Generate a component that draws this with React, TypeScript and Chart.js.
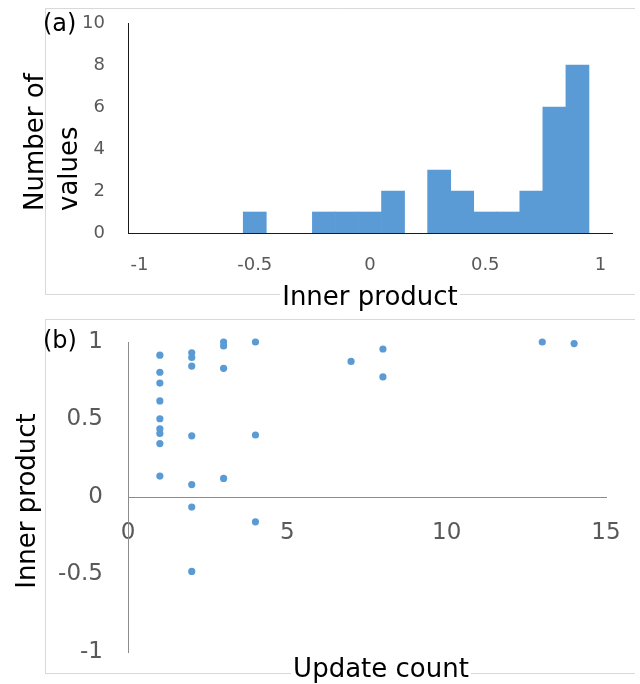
import React, { useEffect, useRef } from "react";
import { Chart, registerables } from "chart.js";

Chart.register(...registerables);

// ---- Data: panel (a) histogram ----
const binCenters = [-0.5, -0.2, -0.1, 0.0, 0.1, 0.3, 0.4, 0.5, 0.6, 0.7, 0.8, 0.9];
const binCounts = [1, 1, 1, 1, 2, 3, 2, 1, 1, 2, 6, 8];
const histXTicks = [-1, -0.5, 0, 0.5, 1];
const histYTicks = [0, 2, 4, 6, 8, 10];

// ---- Data: panel (b) scatter ----
const updateCounts = [1, 1, 1, 1, 1, 1, 1, 1, 1, 2, 2, 2, 2, 2, 2, 2, 3, 3, 3, 3, 4, 4, 4, 7, 8, 8, 13, 14];
const innerProducts = [
  0.915, 0.805, 0.735, 0.62, 0.505, 0.44, 0.41, 0.345, 0.135,
  0.93, 0.9, 0.845, 0.395, 0.08, -0.065, -0.48,
  1.0, 0.975, 0.83, 0.12,
  1.0, 0.4, -0.16,
  0.875,
  0.955, 0.775,
  1.0,
  0.99,
];
const scatXTicks = [0, 5, 10, 15];
const scatYTicks = [-1, -0.5, 0, 0.5, 1];

const labelA = "(a)";
const labelB = "(b)";
const histXTitle = "Inner product";
const histYTitle = ["Number of", "values"];
const scatXTitle = "Update count";
const scatYTitle = "Inner product";

const BLUE = "#5B9BD5";
const FONT = "'DejaVu Sans', sans-serif";
const TICK_COLOR = "#595959";
const FRAME = "#d9d9d9";

function zeroPad(s: any) {
  s.paddingTop = 0;
  s.paddingBottom = 0;
  s.paddingLeft = 0;
  s.paddingRight = 0;
}

function drawFrame(ctx: CanvasRenderingContext2D, top: number, bottom: number) {
  ctx.save();
  ctx.strokeStyle = FRAME;
  ctx.lineWidth = 1;
  ctx.beginPath();
  ctx.moveTo(45.5, top + 0.5);
  ctx.lineTo(635, top + 0.5);
  ctx.moveTo(45.5, top);
  ctx.lineTo(45.5, bottom + 1);
  ctx.moveTo(45.5, bottom + 0.5);
  ctx.lineTo(635, bottom + 0.5);
  ctx.stroke();
  ctx.restore();
}

function drawHTitle(ctx: CanvasRenderingContext2D, text: string, cx: number, baseline: number, size: number) {
  ctx.save();
  ctx.font = `${size}px ${FONT}`;
  const w = ctx.measureText(text).width;
  ctx.fillStyle = "#ffffff";
  ctx.fillRect(cx - w / 2 - 2, baseline - size * 0.78, w + 4, size * 1.02);
  ctx.fillStyle = "#000000";
  ctx.textAlign = "center";
  ctx.textBaseline = "alphabetic";
  ctx.fillText(text, cx, baseline);
  ctx.restore();
}

function drawVTitle(ctx: CanvasRenderingContext2D, text: string, baselineX: number, y: number, size: number, align: CanvasTextAlign) {
  ctx.save();
  ctx.font = `${size}px ${FONT}`;
  ctx.fillStyle = "#000000";
  ctx.translate(baselineX, y);
  ctx.rotate(-Math.PI / 2);
  ctx.textAlign = align;
  ctx.textBaseline = "alphabetic";
  ctx.fillText(text, 0, 0);
  ctx.restore();
}

function drawPanelLabel(ctx: CanvasRenderingContext2D, text: string, x: number, cy: number) {
  ctx.save();
  ctx.font = `24px ${FONT}`;
  ctx.fillStyle = "#000000";
  ctx.textAlign = "left";
  ctx.textBaseline = "middle";
  ctx.fillText(text, x, cy);
  ctx.restore();
}

export default function App() {
  const refA = useRef<HTMLCanvasElement>(null);
  const refB = useRef<HTMLCanvasElement>(null);

  useEffect(() => {
    const decorA = {
      id: "decorA",
      beforeDraw(chart: any) {
        drawFrame(chart.ctx, 8, 294);
      },
      afterDraw(chart: any) {
        const ctx = chart.ctx;
        drawPanelLabel(ctx, labelA, 43, 25);
        drawHTitle(ctx, histXTitle, 370, 305, 26);
        drawVTitle(ctx, histYTitle[0], 43, 211, 26, "left");
        drawVTitle(ctx, histYTitle[1], 77, 211, 26, "left");
      },
    };

    const decorB = {
      id: "decorB",
      beforeDraw(chart: any) {
        drawFrame(chart.ctx, 0, 354);
      },
      afterDraw(chart: any) {
        const ctx = chart.ctx;
        drawPanelLabel(ctx, labelB, 43, 23);
        drawHTitle(ctx, scatXTitle, 381, 358, 26);
        drawVTitle(ctx, scatYTitle, 35, 182, 26, "center");
      },
    };

    const chartA = new Chart(refA.current as HTMLCanvasElement, {
      type: "bar",
      data: {
        datasets: [
          {
            data: binCenters.map((c, i) => ({ x: c, y: binCounts[i] })) as any,
            backgroundColor: BLUE,
            borderWidth: 0,
            barPercentage: 1,
            categoryPercentage: 1,
          },
        ],
      },
      options: {
        animation: false,
        responsive: false,
        events: [],
        layout: { padding: { left: 0, right: 28, top: 23, bottom: 0 }, autoPadding: false },
        plugins: { legend: { display: false }, tooltip: { enabled: false } },
        scales: {
          x: {
            type: "linear",
            min: -1.05,
            max: 1.05,
            offset: false,
            grid: { display: false, drawTicks: false },
            border: { display: true, color: "#1a1a1a", width: 1 },
            afterBuildTicks: (s: any) => {
              s.ticks = histXTicks.map((v) => ({ value: v }));
            },
            afterFit: (s: any) => {
              s.height = 86;
              zeroPad(s);
            },
            ticks: {
              font: { family: FONT, size: 18 },
              color: TICK_COLOR,
              padding: 22,
              maxRotation: 0,
              autoSkip: false,
              callback: (v: any) => String(v),
            },
          },
          y: {
            type: "linear",
            min: 0,
            max: 10,
            grid: { display: false, drawTicks: false },
            border: { display: true, color: "#1a1a1a", width: 1 },
            afterBuildTicks: (s: any) => {
              s.ticks = histYTicks.map((v) => ({ value: v }));
            },
            afterFit: (s: any) => {
              s.width = 128;
              zeroPad(s);
            },
            ticks: {
              font: { family: FONT, size: 18 },
              color: TICK_COLOR,
              padding: 23,
              callback: (v: any) => String(v),
            },
          },
        },
      } as any,
      plugins: [decorA],
    });

    const chartB = new Chart(refB.current as HTMLCanvasElement, {
      type: "scatter",
      data: {
        datasets: [
          {
            data: updateCounts.map((x, i) => ({ x, y: innerProducts[i] })),
            backgroundColor: BLUE,
            pointBackgroundColor: BLUE,
            pointBorderWidth: 0,
            pointRadius: 3.6,
            clip: false,
          } as any,
        ],
      },
      options: {
        animation: false,
        responsive: false,
        events: [],
        layout: { padding: { left: 0, right: 34, top: 23, bottom: 32 }, autoPadding: false },
        plugins: { legend: { display: false }, tooltip: { enabled: false } },
        scales: {
          x: {
            type: "linear",
            position: { y: 0 },
            min: 0,
            max: 15,
            grid: { display: false, drawTicks: false },
            border: { display: true, color: "#8c8c8c", width: 1 },
            afterBuildTicks: (s: any) => {
              s.ticks = scatXTicks.map((v) => ({ value: v }));
            },
            afterFit: (s: any) => {
              zeroPad(s);
            },
            ticks: {
              font: { family: FONT, size: 23 },
              color: TICK_COLOR,
              padding: 22,
              maxRotation: 0,
              autoSkip: false,
              callback: (v: any) => String(v),
            },
          },
          y: {
            type: "linear",
            position: "left",
            min: -1,
            max: 1,
            grid: { display: false, drawTicks: false },
            border: { display: true, color: "#8c8c8c", width: 1 },
            afterBuildTicks: (s: any) => {
              s.ticks = scatYTicks.map((v) => ({ value: v }));
            },
            afterFit: (s: any) => {
              s.width = 128;
              zeroPad(s);
            },
            ticks: {
              font: { family: FONT, size: 23 },
              color: TICK_COLOR,
              padding: 25,
              callback: (v: any) => String(v),
            },
          },
        },
      } as any,
      plugins: [decorB],
    });

    return () => {
      chartA.destroy();
      chartB.destroy();
    };
  }, []);

  return (
    <div style={{ position: "absolute", left: 0, top: 0, width: 640, height: 684, background: "#ffffff" }}>
      <canvas
        ref={refA}
        width={640}
        height={319}
        style={{ position: "absolute", left: 0, top: 0, width: 640, height: 319 }}
      />
      <canvas
        ref={refB}
        width={640}
        height={365}
        style={{ position: "absolute", left: 0, top: 319, width: 640, height: 365 }}
      />
    </div>
  );
}
